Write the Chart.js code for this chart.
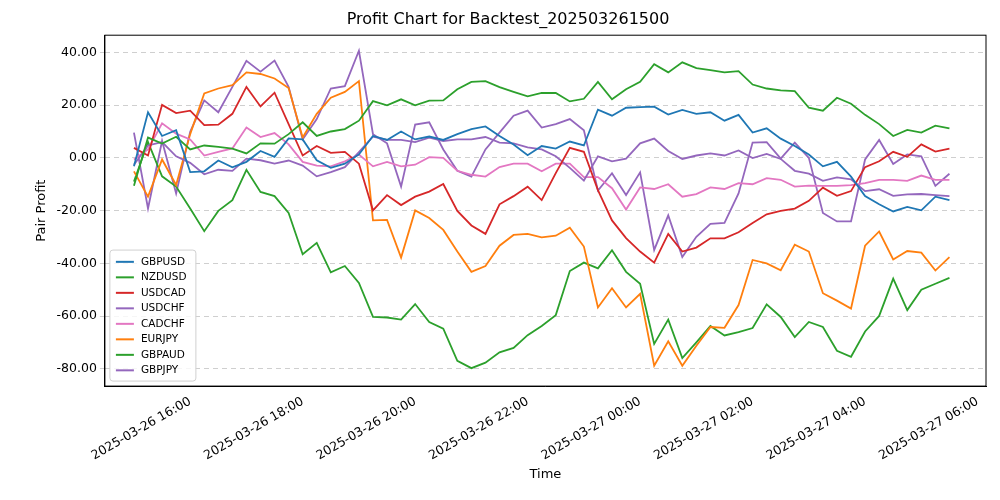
<!DOCTYPE html>
<html>
<head>
<script src="https://cdn.jsdelivr.net/npm/chart.js"></script>
<style>body{margin:0;background:#fff}#wrap{width:1000px;height:500px}</style>
</head>
<body>
<div id="wrap"><canvas id="chart"></canvas></div>
<script>
// minutes since 2025-03-26 00:00, one point every 15 minutes from 15:00
const startMinute = 900;
const stepMinute = 15;
const tickMinutes = [960, 1080, 1200, 1320, 1440, 1560, 1680, 1800];
const yTicks = [40, 20, 0, -20, -40, -60, -80];

const GBPUSD = [-3.2,17.3,8.3,10.5,-5.4,-5.1,-1,-3.6,-1.5,2.6,0.4,7.4,7,-0.9,-3.8,
  -2.2,1.3,8.3,6.8,10,7,8.1,6.8,9,10.9,11.9,8.3,5.1,1.0,
  4.5,3.5,6.2,4.7,18.3,16,19,19.2,19.4,16.4,18.2,16.7,17.3,14.1,
  16.3,9.6,11.2,7.3,4.5,1.3,-3.2,-1.5,-7.1,-14.5,-17.6,-20.3,-18.6,-19.9,-14.7,-16];
const NZDUSD = [-10.6,7.7,5.4,8,3.2,4.7,4.2,3.5,1.7,5.5,5.4,9,13.5,8.3,10,
  10.9,14.1,21.5,19.9,22.2,19.9,21.7,21.8,26,28.8,29.1,26.8,25,23.3,
  24.6,24.6,21.4,22.4,28.8,22.2,26,28.8,35.5,32.4,36.2,34,33.3,32.4,
  32.9,27.8,26.3,25.6,25.3,19,17.9,22.8,20.5,16.3,12.8,8.3,10.6,9.6,12.2,11.2];
const USDCAD = [3.8,0.9,20.1,17,17.9,12.4,12.6,16.7,26.9,19.5,24.7,12.8,0.9,4.5,1.9,
  2.3,-2.2,-19.9,-14.1,-17.9,-14.7,-12.8,-9.9,-20.1,-25.6,-28.8,-17.6,-14.5,-10.9,
  -16,-5.8,3.8,2.3,-12.2,-23.7,-30.4,-35.5,-39.7,-28.8,-35.5,-34,-30.5,-30.5,
  -28.2,-24.7,-21.4,-20.1,-19.2,-16.3,-11.3,-14.4,-12.6,-3.5,-1.3,2.3,0.4,5.1,2.4,3.5];
const USDCHF = [-2.6,4.7,6,0.6,-1.9,-6.2,-4.5,-4.9,-0.3,-0.9,-2.2,-1,-2.9,-7,-5.4,
  -3.5,2.2,8.1,6.8,6.8,6,7.7,6.4,7,7,7.9,5.8,5.5,4,
  3.2,0.6,-3.8,-8.6,0.6,-1.3,-0.3,5.5,7.3,2.6,-0.4,0.9,1.7,0.9,
  2.8,-0.1,1.5,-0.4,-4.9,-6,-8.7,-7.4,-8.1,-12.6,-11.9,-14.4,-13.8,-13.7,-14.1,-14.5];
const CADCHF = [-0.6,3.2,13.1,9.2,7,0.9,2.3,3.6,11.5,7.9,9.4,5.1,-1.5,-2.9,-3.2,
  -1.3,1.3,-3.2,-1.5,-3.2,-2.6,0.3,0,-4.9,-6.4,-7.1,-3.5,-2.2,-2.2,
  -5.1,-2.2,-2.2,-7.3,-7.3,-11.5,-19.6,-11.2,-11.8,-10,-14.7,-13.7,-11.2,-11.8,
  -9.6,-10,-7.7,-8.3,-10.9,-10.5,-10.6,-10.6,-10.3,-9.6,-8.3,-8.3,-8.7,-6.7,-8.3,-8.3];
const EURJPY = [-5.1,-14.7,-0.6,-10.3,9,24.4,26.3,27.6,32.4,31.8,30.1,26.5,7.7,16.7,22.8,
  25,29.1,-23.7,-23.5,-37.8,-19.9,-22.8,-27.3,-35.5,-43.2,-41,-33.3,-29.2,-28.8,
  -30.1,-29.5,-26.5,-33.6,-56.7,-49.4,-56.7,-51.5,-78.8,-69.5,-78.8,-71.2,-64.1,-64.4,
  -55.8,-38.7,-40,-42.6,-32.9,-35.5,-51.3,-54.1,-57.1,-33.3,-27.9,-38.5,-35.3,-35.9,-42.7,-37.6];
const GBPAUD = [-9,6,-7,-10.9,-19.2,-27.8,-20.1,-16,-4.5,-12.9,-14.5,-20.9,-36.5,-32.2,-43.4,
  -41,-47.4,-60.3,-60.5,-61.3,-55.4,-62.2,-64.7,-76.9,-79.7,-77.6,-73.7,-72,-67.2,
  -63.7,-59.6,-42.9,-39.7,-41.9,-35,-43.2,-47.7,-70.5,-61.3,-75.9,-69.9,-63.7,-67.3,
  -66,-64.5,-55.5,-60.3,-67.9,-62.2,-64.1,-73.1,-75.4,-65.8,-59.9,-45.8,-57.7,-50,-47.7,-45.5];
const GBPJPY = [9.6,-19.2,6.4,-13.5,9.9,21.8,17.3,26.9,36.8,32.7,36.9,26.9,7,14.7,26.3,
  27.2,40.6,9,5.5,-10.9,12.6,13.5,3.2,-4.9,-7.1,3.2,9.6,16,17.9,
  11.5,12.8,14.7,10.5,-12.4,-5.8,-14.1,-5.5,-34.9,-21.8,-37.6,-29.9,-25,-24.6,
  -13.5,5.8,6,-0.3,5.8,0,-20.9,-24.1,-24.1,-0.6,6.8,-2.3,1.3,0.6,-10.6,-6];

const series = [
  ['GBPUSD', GBPUSD, '#1f77b4'],
  ['NZDUSD', NZDUSD, '#2ca02c'],
  ['USDCAD', USDCAD, '#d62728'],
  ['USDCHF', USDCHF, '#9467bd'],
  ['CADCHF', CADCHF, '#e377c2'],
  ['EURJPY', EURJPY, '#ff7f0e'],
  ['GBPAUD', GBPAUD, '#2ca02c'],
  ['GBPJPY', GBPJPY, '#9467bd'],
];

function fmtTime(m) {
  const day = m >= 1440 ? '2025-03-27' : '2025-03-26';
  const mm = m % 1440;
  const h = String(Math.floor(mm / 60)).padStart(2, '0');
  const mi = String(mm % 60).padStart(2, '0');
  return day + ' ' + h + ':' + mi;
}

Chart.defaults.font.family = 'DejaVu Sans';
Chart.defaults.color = '#000';

// legend drawn inside the plot, lower left, plus the full axes box
const innerLegend = {
  id: 'innerLegend',
  afterDraw(chart) {
    const ctx = chart.ctx, a = chart.chartArea;
    ctx.save();
    ctx.strokeStyle = '#000'; ctx.lineWidth = 1;
    ctx.strokeRect(a.left, a.top, a.right - a.left, a.bottom - a.top);
    const x = a.left + 5, rowH = 15.5, h = series.length * rowH + 7, y = a.bottom - 5 - h;
    ctx.fillStyle = 'rgba(255,255,255,0.8)';
    ctx.strokeStyle = '#d0d0d0';
    ctx.beginPath();
    ctx.roundRect(x, y, 86, h, 3);
    ctx.fill(); ctx.stroke();
    ctx.font = '10.5px DejaVu Sans';
    ctx.textBaseline = 'middle';
    series.forEach((s, i) => {
      const cy = y + 4 + rowH * i + rowH / 2;
      ctx.strokeStyle = s[2]; ctx.lineWidth = 2;
      ctx.beginPath(); ctx.moveTo(x + 6, cy); ctx.lineTo(x + 24, cy); ctx.stroke();
      ctx.fillStyle = '#000';
      ctx.fillText(s[0], x + 31, cy);
    });
    ctx.restore();
  }
};

new Chart('chart', {
  type: 'line',
  data: {
    datasets: series.map(s => ({
      label: s[0],
      data: s[1].map((v, i) => ({ x: startMinute + i * stepMinute, y: v })),
      borderColor: s[2],
      borderWidth: 1.8,
      pointRadius: 0,
      tension: 0,
      fill: false,
    })),
  },
  options: {
    responsive: true,
    maintainAspectRatio: false,
    animation: false,
    layout: { padding: { left: 30, right: 14, top: 2, bottom: 14 } },
    plugins: {
      legend: { display: false },
      tooltip: { enabled: false },
      title: {
        display: true,
        text: 'Profit Chart for Backtest_202503261500',
        font: { size: 16, weight: 'normal' },
        padding: { top: 8, bottom: 6 },
      },
    },
    scales: {
      x: {
        type: 'linear',
        min: 869,
        max: 1809,
        afterBuildTicks: sc => { sc.ticks = tickMinutes.map(v => ({ value: v })); },
        ticks: { callback: v => fmtTime(v), maxRotation: 30, minRotation: 30, font: { size: 12.5 } },
        grid: { display: false, drawTicks: true, tickLength: 5 },
        border: { color: '#000', width: 1 },
        title: { display: true, text: 'Time', font: { size: 13 }, padding: { top: 0 } },
      },
      y: {
        min: -86.5,
        max: 46.5,
        afterBuildTicks: sc => { sc.ticks = yTicks.map(v => ({ value: v })); },
        ticks: { callback: v => v.toFixed(2), font: { size: 12.5 } },
        grid: { color: '#cfcfcf', tickLength: 5, drawTicks: true },
        border: { color: '#000', width: 1, dash: [5, 4] },
        title: { display: true, text: 'Pair Profit', font: { size: 13 } },
      },
    },
  },
  plugins: [innerLegend],
});
</script>
</body>
</html>
